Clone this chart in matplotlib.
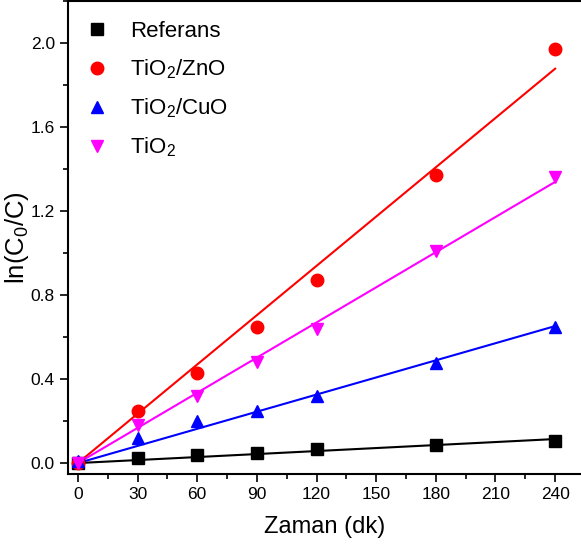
import numpy as np
import matplotlib
matplotlib.use("Agg")
import matplotlib.pyplot as plt
from matplotlib.ticker import MultipleLocator

plt.rcParams['font.family'] = ['Liberation Sans', 'DejaVu Sans']
plt.rcParams['mathtext.fontset'] = 'custom'
plt.rcParams['mathtext.rm'] = 'Liberation Sans'
plt.rcParams['mathtext.default'] = 'regular'

# data
zaman = [0, 30, 60, 90, 120, 180, 240]
referans = [0.0, 0.024, 0.037, 0.05, 0.065, 0.085, 0.105]
tio2_zno = [0.0, 0.25, 0.43, 0.65, 0.87, 1.37, 1.97]
tio2_cuo = [0.01, 0.12, 0.20, 0.25, 0.32, 0.475, 0.65]
tio2 = [0.0, 0.18, 0.32, 0.48, 0.64, 1.01, 1.36]

labels = ['Referans', 'TiO$_2$/ZnO', 'TiO$_2$/CuO', 'TiO$_2$']
colors = ['black', 'red', 'blue', 'magenta']
markers = ['s', 'o', '^', 'v']
series = [referans, tio2_zno, tio2_cuo, tio2]

fig = plt.figure(figsize=(5.81, 5.47), dpi=100)
ax = fig.add_axes([0.117, 0.1335, 0.883, 0.8645])

x = np.array(zaman, dtype=float)
handles = []
for y, c, m, lab in zip(series, colors, markers, labels):
    y = np.array(y)
    # linear fit through origin
    k = np.sum(x * y) / np.sum(x * x)
    ax.plot([0, 240], [0, k * 240], color=c, lw=1.5, zorder=2)
    h, = ax.plot(x, y, ls='none', marker=m, color=c, ms=9, zorder=3, label=lab)
    handles.append(h)

ax.set_xlim(-5, 253)
ax.set_ylim(-0.052, 2.2)
ax.xaxis.set_major_locator(MultipleLocator(30))
ax.xaxis.set_minor_locator(MultipleLocator(15))
ax.yaxis.set_major_locator(MultipleLocator(0.4))
ax.yaxis.set_minor_locator(MultipleLocator(0.2))
ax.yaxis.set_major_formatter(plt.FuncFormatter(lambda v, p: f'{v:.1f}'))
ax.tick_params(which='both', direction='out', top=False, right=False, width=1.2)
ax.tick_params(which='major', length=6, labelsize=12.5)
ax.tick_params(which='minor', length=3.5)
ax.spines['right'].set_visible(False)
for s in ['left', 'bottom', 'top']:
    ax.spines[s].set_linewidth(1.5)

ax.set_xlabel('Zaman (dk)', fontsize=17, labelpad=10)
ax.set_ylabel('ln(C$_0$/C)', fontsize=18.5)
ax.yaxis.set_label_coords(-0.072, 0.5)

ax.legend(handles=handles, loc='upper left', frameon=False, fontsize=16,
          handlelength=1.0, handletextpad=1.0, labelspacing=0.7,
          borderaxespad=0.0, bbox_to_anchor=(0.017, 0.977))

fig.savefig('out.png', dpi=100)
